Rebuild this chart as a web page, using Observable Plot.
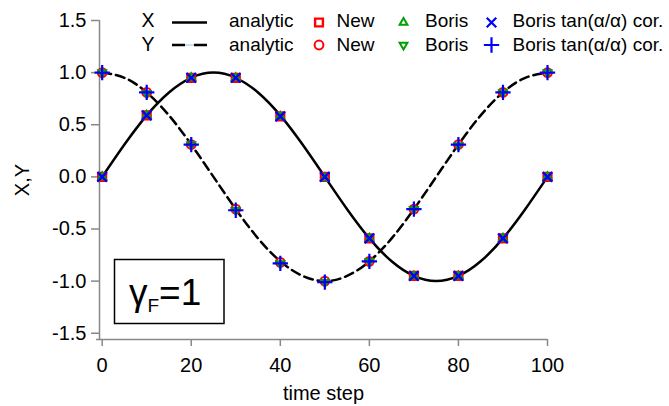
<!DOCTYPE html>
<html><head><meta charset="utf-8">
<script src="https://cdn.jsdelivr.net/npm/d3@7"></script>
<script src="https://cdn.jsdelivr.net/npm/@observablehq/plot@0.6"></script>
<style>
html,body{margin:0;padding:0;background:#fff;}
#wrap{position:relative;width:669px;height:406px;font-family:"Liberation Sans",Arial,Helvetica,sans-serif;}
#overlay{position:absolute;left:0;top:0;pointer-events:none;}
</style></head><body><div id="wrap"></div>
<script>
// ---- data ----
const steps = [0, 10, 20, 30, 40, 50, 60, 70, 80, 90, 100];
const newX = [0, 0.59, 0.95, 0.95, 0.58, 0, -0.59, -0.95, -0.95, -0.59, 0];
const newY = [1.0, 0.81, 0.31, -0.31, -0.82, -1.0, -0.81, -0.31, 0.31, 0.81, 1.0];
const borisX = [0, 0.59, 0.95, 0.95, 0.58, -0.01, -0.59, -0.95, -0.95, -0.59, 0];
const borisY = [1.0, 0.80, 0.31, -0.32, -0.83, -1.01, -0.81, -0.31, 0.30, 0.81, 1.0];
const borisTanX = [0, 0.59, 0.95, 0.95, 0.58, 0, -0.59, -0.95, -0.95, -0.59, 0];
const borisTanY = [1.0, 0.81, 0.31, -0.32, -0.83, -1.01, -0.81, -0.31, 0.31, 0.81, 1.0];

const analyticT = [0, 5, 10, 15, 20, 25, 30, 35, 40, 45, 50, 55, 60, 65, 70, 75, 80, 85, 90, 95, 100];
const analyticX = [0, 0.31, 0.59, 0.81, 0.95, 1.0, 0.95, 0.81, 0.59, 0.31, 0, -0.31, -0.59, -0.81, -0.95, -1.0, -0.95, -0.81, -0.59, -0.31, 0];
const analyticY = [1.0, 0.95, 0.81, 0.59, 0.31, 0, -0.31, -0.59, -0.81, -0.95, -1.0, -0.95, -0.81, -0.59, -0.31, 0, 0.31, 0.59, 0.81, 0.95, 1.0];

const xTicks = [0, 20, 40, 60, 80, 100];
const yTicks = [-1.5, -1.0, -0.5, 0.0, 0.5, 1.0, 1.5];
const xDomain = [-0.6, 100];
const yDomain = [-1.56, 1.5];

const RED = "#ff0000", GREEN = "#00a000", BLUE = "#0000ff";
const FONT = '"Liberation Sans", Arial, Helvetica, sans-serif';

const analytic = analyticT.map((t, i) => ({t, x: analyticX[i], y: analyticY[i]}));
const pts = steps.map((t, i) => ({t, newX: newX[i], newY: newY[i], borisX: borisX[i], borisY: borisY[i], tanX: borisTanX[i], tanY: borisTanY[i]}));

const R = 4.4, RT = 2.9, RP = 5.0;
const plot = Plot.plot({
  width: 669, height: 406,
  marginLeft: 99, marginRight: 122, marginTop: 20, marginBottom: 67,
  style: {fontFamily: FONT, fontSize: "20px", color: "black", background: "white", overflow: "visible"},
  x: {domain: xDomain},
  y: {domain: yDomain},
  marks: [
    Plot.ruleX([xDomain[0]], {stroke: "#888", strokeWidth: 1.5}),
    Plot.ruleY([yDomain[0]], {stroke: "#888", strokeWidth: 1.5, insetLeft: -3}),
    Plot.axisX(xTicks, {tickSize: 7, tickPadding: 11, stroke: "#888", strokeWidth: 1.5, fill: "black", fontSize: 20,
      label: "time step", labelAnchor: "center", labelOffset: 60, labelArrow: "none"}),
    Plot.axisY(yTicks, {tickSize: 8, tickPadding: 5, stroke: "#888", strokeWidth: 1.5, fill: "black", fontSize: 20,
      tickFormat: d => d.toFixed(1),
      label: "X,Y", labelAnchor: "center", labelOffset: 85, labelArrow: "none"}),
    Plot.line(analytic, {x: "t", y: "x", curve: "natural", stroke: "black", strokeWidth: 2.5}),
    Plot.line(analytic, {x: "t", y: "y", curve: "natural", stroke: "black", strokeWidth: 2.5, strokeDasharray: "9,5"}),
    Plot.dot(pts, {x: "t", y: "newX", symbol: "square", r: R, stroke: RED, strokeWidth: 2.4}),
    Plot.dot(pts, {x: "t", y: "newY", symbol: "circle", r: R, stroke: RED, strokeWidth: 2}),
    Plot.dot(pts, {x: "t", y: "borisX", symbol: "triangle", r: RT, stroke: GREEN, strokeWidth: 2}),
    Plot.dot(pts, {x: "t", y: "borisY", symbol: "triangle", rotate: 180, r: RT, stroke: GREEN, strokeWidth: 2}),
    Plot.dot(pts, {x: "t", y: "tanX", symbol: "times", r: R, stroke: BLUE, strokeWidth: 2.2}),
    Plot.dot(pts, {x: "t", y: "tanY", symbol: "plus", r: RP, stroke: BLUE, strokeWidth: 2.2})
  ]
});
const wrap = document.getElementById("wrap");
wrap.appendChild(plot);

// ---- legend and annotation overlay ----
const ov = d3.select(wrap).append("svg").attr("id", "overlay")
  .attr("width", 669).attr("height", 406)
  .style("font-family", FONT);

const rows = [
  {name: "X", base: 26.5, my: 22.5, dashed: false,
   syms: [[d3.symbolSquare, RED, 0, R, 2.4], [d3.symbolTriangle, GREEN, 0, RT, 2], [d3.symbolTimes, BLUE, 0, R, 2.2]]},
  {name: "Y", base: 50.5, my: 45, dashed: true,
   syms: [[d3.symbolCircle, RED, 0, R, 2], [d3.symbolTriangle, GREEN, 180, RT, 2], [d3.symbolPlus, BLUE, 0, RP, 2.2]]}
];
const labels = ["New", "Boris", "Boris tan(\u03B1/\u03B1) cor."];
const symX = [319, 403.5, 491.5];
const txtX = [336.5, 425, 512.5];
rows.forEach(r => {
  ov.append("text").attr("x", 141.5).attr("y", r.base).attr("font-size", 19.5).text(r.name);
  if (r.dashed) {
    ov.append("line").attr("x1", 172).attr("x2", 207).attr("y1", r.my).attr("y2", r.my)
      .attr("stroke", "#9dbbf0").attr("stroke-width", 1.2);
    ov.append("line").attr("x1", 172).attr("x2", 207).attr("y1", r.my).attr("y2", r.my)
      .attr("stroke", "black").attr("stroke-width", 2.5).attr("stroke-dasharray", "13,9");
  } else {
    ov.append("line").attr("x1", 172).attr("x2", 207).attr("y1", r.my).attr("y2", r.my)
      .attr("stroke", "black").attr("stroke-width", 2.5);
  }
  ov.append("text").attr("x", 229).attr("y", r.base).attr("font-size", 19).text("analytic");
  r.syms.forEach(([type, col, rot, rr, sw], i) => {
    ov.append("path")
      .attr("d", d3.symbol(type, Math.PI * rr * rr)())
      .attr("transform", `translate(${symX[i]},${r.my}) rotate(${rot})`)
      .attr("fill", "none").attr("stroke", col).attr("stroke-width", sw);
    ov.append("text").attr("x", txtX[i]).attr("y", r.base).attr("font-size", 19).text(labels[i]);
  });
});

// gamma box
ov.append("rect").attr("x", 114.5).attr("y", 259.5).attr("width", 109.5).attr("height", 64)
  .attr("fill", "white").attr("stroke", "black").attr("stroke-width", 1.5);
const g = ov.append("text").attr("x", 129).attr("y", 305).attr("font-size", 37);
g.append("tspan").text("\u03B3");
g.append("tspan").attr("font-size", 19).attr("dy", 7).text("F");
g.append("tspan").attr("dy", -7).text("=1");
</script></body></html>
